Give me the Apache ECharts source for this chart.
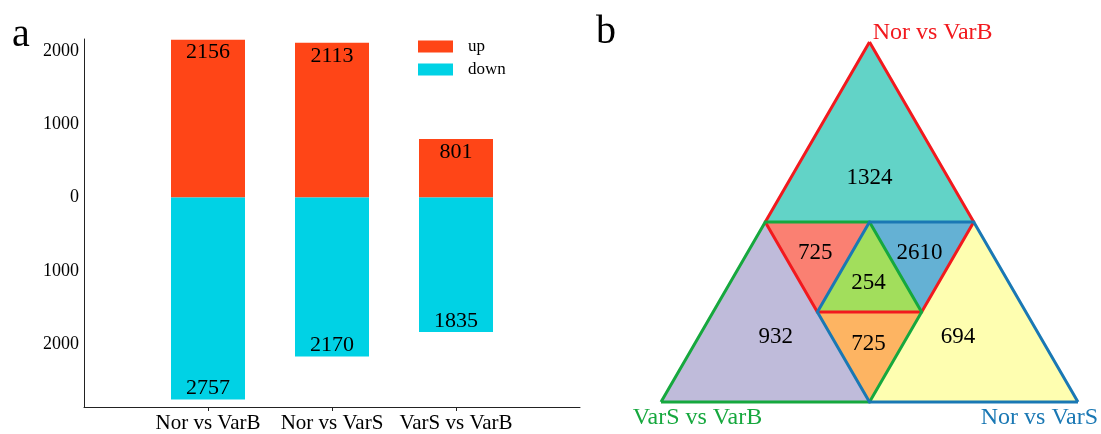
<!DOCTYPE html>
<html>
<head>
<meta charset="utf-8">
<script src="https://cdn.jsdelivr.net/npm/echarts@6/dist/echarts.min.js"></script>
<style>
  html, body { margin: 0; padding: 0; background: #fff; }
  #main { width: 1101px; height: 434px; }
</style>
</head>
<body>
<div id="main"></div>
<script>
// panel a data
var categories = ['Nor vs VarB', 'Nor vs VarS', 'VarS vs VarB'];
var upValues = [2156, 2113, 801];
var downValues = [2757, 2170, 1835];
var yTickStep = 1000;

// panel b data
var vennSets = ['Nor vs VarB', 'VarS vs VarB', 'Nor vs VarS'];
var vennValues = [1324, 725, 2610, 254, 932, 725, 694];

var FONT = 'Liberation Serif';

// triangle lattice (side 4), just the drawing layout
var P = {
  L: [0, 0], B: [2, 0], R: [4, 0],
  IL: [1.5, 1], IR: [2.5, 1],
  LM: [1, 2], C: [2, 2], RM: [3, 2],
  T: [2, 4]
};
var regionPolys = [
  ['T', 'LM', 'RM'],
  ['LM', 'C', 'IL'],
  ['C', 'RM', 'IR'],
  ['C', 'IL', 'IR'],
  ['L', 'LM', 'IL', 'B'],
  ['IL', 'IR', 'B'],
  ['RM', 'R', 'B', 'IR']
];
var regionLabelPos = [[2, 2.49], [1.48, 1.66], [2.48, 1.66], [1.99, 1.32], [1.1, 0.72], [1.99, 0.64], [2.85, 0.72]];
var regionColors = ['#62D3C7', '#FA8072', '#64B1D4', '#A2DE5C', '#BFBBDA', '#FDB462', '#FEFEB0'];

var outlines = [
  ['T', 'LM', 'IL', 'IR', 'RM', 'T'],
  ['L', 'LM', 'C', 'IR', 'B', 'L'],
  ['R', 'RM', 'C', 'IL', 'B', 'R']
];
var setColors = ['#F2191E', '#16A83E', '#1A78B4'];
var setLabelPos = [[2.03, 4.1, 'left'], [0.35, -0.18, 'center'], [3.63, -0.18, 'center']];

var axisData = [''].concat(categories, ['']);
var upData = ['-'].concat(upValues, ['-']);
var downData = ['-'].concat(downValues.map(function (v) { return -v; }), ['-']);

var chart = echarts.init(document.getElementById('main'));
chart.setOption({
  animation: false,
  textStyle: { fontFamily: FONT },
  graphic: [
    { type: 'text', left: 12, top: 15, style: { text: 'a', font: '40px "Liberation Serif"', fill: '#000' } },
    { type: 'text', left: 596, top: 12, style: { text: 'b', font: '40px "Liberation Serif"', fill: '#000' } }
  ],
  legend: {
    left: 413, top: 33,
    orient: 'vertical',
    itemWidth: 35, itemHeight: 12, itemGap: 6,
    icon: 'rect',
    textStyle: { fontFamily: FONT, fontSize: 17, color: '#000', padding: [0, 0, 0, 10] },
    data: ['up', 'down']
  },
  grid: [
    { left: 84, top: 39, width: 496, bottom: 26 },
    { left: 661, top: 42, width: 417, height: 360 }
  ],
  xAxis: [
    {
      type: 'category', gridIndex: 0, data: axisData, boundaryGap: false,
      axisLine: { onZero: false, lineStyle: { color: '#222', width: 1 } },
      axisTick: { length: 4, lineStyle: { color: '#222' }, interval: function (i, v) { return v !== ''; } },
      axisLabel: { interval: 0, fontFamily: FONT, fontSize: 21, color: '#000', margin: 6 }
    },
    { type: 'value', gridIndex: 1, min: 0, max: 4, show: false }
  ],
  yAxis: [
    {
      type: 'value', gridIndex: 0, min: -2860, max: 2165, splitNumber: 5,
      axisLine: { show: true, lineStyle: { color: '#222', width: 1 } },
      axisTick: { show: false },
      splitLine: { show: false },
      axisLabel: {
        showMinLabel: false, showMaxLabel: false,
        fontFamily: FONT, fontSize: 18, color: '#000', margin: 5,
        formatter: function (v) { return v % yTickStep === 0 ? String(Math.abs(v)) : ''; }
      }
    },
    { type: 'value', gridIndex: 1, min: 0, max: 4, show: false }
  ],
  series: [
    {
      name: 'up', type: 'bar', stack: 'total', barWidth: 74,
      itemStyle: { color: '#FF4517' },
      label: {
        show: true, position: 'insideTop', distance: 2,
        fontFamily: FONT, fontSize: 22, color: '#000',
        formatter: function (p) { return Math.abs(p.value); }
      },
      data: upData
    },
    {
      name: 'down', type: 'bar', stack: 'total', barWidth: 74,
      itemStyle: { color: '#00D2E5' },
      label: {
        show: true, position: 'insideBottom', distance: 0,
        fontFamily: FONT, fontSize: 22, color: '#000',
        formatter: function (p) { return Math.abs(p.value); }
      },
      data: downData
    },
    {
      type: 'custom', xAxisIndex: 1, yAxisIndex: 1, clip: false, silent: true,
      data: vennValues.map(function (v, i) { return [i, v]; }),
      renderItem: function (params, api) {
        var i = params.dataIndex;
        var pts = regionPolys[i].map(function (k) { return api.coord(P[k]); });
        var lp = api.coord(regionLabelPos[i]);
        return {
          type: 'group',
          children: [
            { type: 'polygon', shape: { points: pts }, style: { fill: regionColors[i], stroke: null } },
            {
              type: 'text', x: lp[0], y: lp[1], z2: 10,
              style: {
                text: String(vennValues[i]), font: '23px "Liberation Serif"', fill: '#000',
                align: 'center', verticalAlign: 'middle', textAlign: 'center', textVerticalAlign: 'middle'
              }
            }
          ]
        };
      }
    },
    {
      type: 'custom', xAxisIndex: 1, yAxisIndex: 1, clip: false, silent: true, z: 3,
      data: vennSets.map(function (s, i) { return [i, 0]; }),
      renderItem: function (params, api) {
        var i = params.dataIndex;
        var pts = outlines[i].map(function (k) { return api.coord(P[k]); });
        var lp = api.coord(setLabelPos[i]);
        return {
          type: 'group',
          children: [
            { type: 'polyline', shape: { points: pts }, style: { stroke: setColors[i], lineWidth: 3, fill: null, lineJoin: 'miter' } },
            {
              type: 'text', x: lp[0], y: lp[1],
              style: {
                text: vennSets[i], font: '24px "Liberation Serif"', fill: setColors[i],
                align: setLabelPos[i][2], verticalAlign: 'middle',
                textAlign: setLabelPos[i][2], textVerticalAlign: 'middle'
              }
            }
          ]
        };
      }
    }
  ]
});
</script>
</body>
</html>
